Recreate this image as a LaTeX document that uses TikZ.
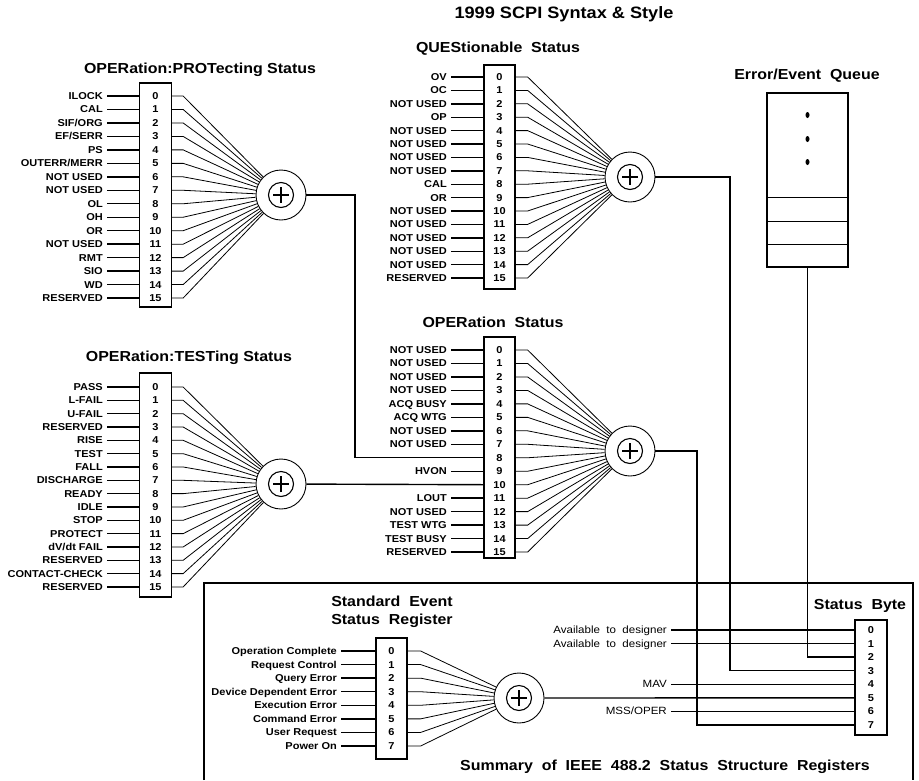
\documentclass[tikz,border=0pt]{standalone}
\usepackage{fontspec}
\setmainfont{Liberation Sans}[FakeStretch=1.1]
\usetikzlibrary{positioning}

\begin{document}
\begin{tikzpicture}[
    x=1pt, y=-1pt,
    regbox/.style={rectangle, draw, line width=1.3pt, minimum width=32pt, inner sep=0pt},
    bitnum/.style={inner sep=0pt, text height=7pt, text depth=0pt, font=\bfseries\fontsize{10}{10}\selectfont},
    bitlab/.style={anchor=east, inner xsep=4pt, inner ysep=1pt, text height=7pt, text depth=0pt, font=\bfseries\fontsize{10}{10}\selectfont},
    sblab/.style={anchor=east, inner xsep=4pt, inner ysep=1pt, text height=7pt, text depth=0pt, font=\fontsize{10.5}{10.5}\selectfont},
    regtitle/.style={font=\bfseries\fontsize{14.5}{18}\selectfont, align=center},
    wire/.style={line width=1.4pt},
    fan/.style={line width=0.8pt},
    sum/.style={circle, draw, line width=0.9pt, minimum size=50pt, inner sep=0pt,
        path picture={
            \draw[line width=1.1pt] (path picture bounding box.center) circle (12.5pt);
            \draw[line width=1.1pt] ([xshift=-8pt]path picture bounding box.center) -- ([xshift=8pt]path picture bounding box.center)
                ([yshift=-8pt]path picture bounding box.center) -- ([yshift=8pt]path picture bounding box.center);
        }}
]
    \useasboundingbox (0,0) rectangle (919,780);

    \node[font=\bfseries\fontsize{16.5}{20}\selectfont] (maintitle) at (564,14) {1999 SCPI Syntax \& Style};

    % OPERation:PROTecting
    \node[regtitle] (ptitle) at (200,70) {OPERation:PROTecting Status};
    \node[regbox, minimum height=224pt] (pbox) at (155.5,195) {};
    \node[sum] (psum) at (281,195) {};
    \foreach \i/\lab in {0/ILOCK, 1/CAL, 2/{SIF/ORG}, 3/{EF/SERR}, 4/PS, 5/{OUTERR/MERR}, 6/NOT USED, 7/NOT USED,
                         8/OL, 9/OH, 10/OR, 11/NOT USED, 12/RMT, 13/SIO, 14/WD, 15/RESERVED} {
        \node[bitnum] (p\i) at (155.5,{96+13.47*\i}) {\i};
        \node[bitlab] (pl\i) at (107,{96+13.47*\i}) {\lab};
        \draw[wire] (pl\i) -- (p\i -| pbox.west);
        \draw[fan] (p\i -| pbox.east) -- ++(11,0) -- (psum);
    }

    % OPERation:TESTing
    \node[regtitle] (ttitle) at (189,358) {OPERation:TESTing Status};
    \node[regbox, minimum height=224pt] (tbox) at (155.5,485) {};
    \node[sum] (tsum) at (281,484) {};
    \foreach \i/\lab in {0/PASS, 1/L-FAIL, 2/U-FAIL, 3/RESERVED, 4/RISE, 5/TEST, 6/FALL, 7/DISCHARGE,
                         8/READY, 9/IDLE, 10/STOP, 11/PROTECT, 12/{dV/dt FAIL}, 13/RESERVED, 14/CONTACT-CHECK, 15/RESERVED} {
        \node[bitnum] (t\i) at (155.5,{387+13.33*\i}) {\i};
        \node[bitlab] (tl\i) at (107,{387+13.33*\i}) {\lab};
        \draw[wire] (tl\i) -- (t\i -| tbox.west);
        \draw[fan] (t\i -| tbox.east) -- ++(11,0) -- (tsum);
    }

    % QUEStionable
    \node[regtitle] (qtitle) at (498,49) {QUEStionable~~Status};
    \node[regbox, minimum width=31pt, minimum height=224pt] (qbox) at (499.5,177) {};
    \node[sum] (qsum) at (630,177) {};
    \foreach \i/\lab in {0/OV, 1/OC, 2/NOT USED, 3/OP, 4/NOT USED, 5/NOT USED, 6/NOT USED, 7/NOT USED,
                         8/CAL, 9/OR, 10/NOT USED, 11/NOT USED, 12/NOT USED, 13/NOT USED, 14/NOT USED, 15/RESERVED} {
        \node[bitnum] (q\i) at (499.5,{77+13.4*\i}) {\i};
        \node[bitlab] (ql\i) at (451,{77+13.4*\i}) {\lab};
        \draw[wire] (ql\i) -- (q\i -| qbox.west);
        \draw[fan] (q\i -| qbox.east) -- ++(12,0) -- (qsum);
    }

    % OPERation
    \node[regtitle] (otitle) at (493,322) {OPERation~~Status};
    \node[regbox, minimum width=31pt, minimum height=221pt] (obox) at (499.5,447.5) {};
    \node[sum] (osum) at (630,451) {};
    \foreach \i in {0,...,15} {
        \node[bitnum] (o\i) at (499.5,{350+13.47*\i}) {\i};
        \draw[fan] (o\i -| obox.east) -- ++(12,0) -- (osum);
    }
    \foreach \i/\lab in {0/NOT USED, 1/NOT USED, 2/NOT USED, 3/NOT USED, 4/ACQ BUSY, 5/ACQ WTG, 6/NOT USED, 7/NOT USED,
                         9/HVON, 11/LOUT, 12/NOT USED, 13/TEST WTG, 14/TEST BUSY, 15/RESERVED} {
        \node[bitlab] (ol\i) at (451,{350+13.47*\i}) {\lab};
        \draw[wire] (ol\i) -- (o\i -| obox.west);
    }

    % Error/Event queue
    \node[regtitle] (etitle) at (807,76) {Error/Event~~Queue};
    \node[regbox, minimum width=81pt, minimum height=174pt] (queue) at (807.5,180) {};
    \foreach \h in {23,46,70}
        \draw[line width=1.3pt] ([yshift=\h pt]queue.south west) -- ([yshift=\h pt]queue.south east);
    \foreach \d in {115,139,162}
        \fill (807.5,\d) ellipse (2pt and 3pt);

    % IEEE 488.2 part
    \draw[line width=1.3pt] (204,780) -- (204,583) -- (913,583) -- (913,780);
    \node[font=\bfseries\fontsize{14.5}{18}\selectfont] (summary) at (665,767) {Summary~~of~~IEEE~~488.2~~Status~~Structure~~Registers};

    \node[regtitle] (stitle) at (392,612) {Standard~~Event\\Status~~Register};
    \node[regbox, minimum width=31pt, minimum height=121pt] (sesbox) at (391.5,698.5) {};
    \node[sum] (ssum) at (519,698) {};
    \foreach \i/\lab in {0/Operation Complete, 1/Request Control, 2/Query Error, 3/Device Dependent Error,
                         4/Execution Error, 5/Command Error, 6/User Request, 7/Power On} {
        \node[bitnum] (e\i) at (391.5,{651+13.57*\i}) {\i};
        \node[bitlab] (el\i) at (341,{651+13.57*\i}) {\lab};
        \draw[wire] (el\i) -- (e\i -| sesbox.west);
        \draw[fan] (e\i -| sesbox.east) -- ++(13,0) -- (ssum);
    }

    \node[regtitle] (btitle) at (860,606) {Status~~Byte};
    \node[regbox, minimum height=115pt] (sbox) at (871,677.5) {};
    \foreach \i in {0,...,7}
        \node[bitnum] (s\i) at (871,{630+13.57*\i}) {\i};
    \foreach \i/\lab in {0/Available~~to~~designer, 1/Available~~to~~designer, 4/MAV, 6/{MSS/OPER}} {
        \node[sblab] (sl\i) at (671,{630+13.57*\i}) {\lab};
        \draw[wire] (sl\i) -- (s\i -| sbox.west);
    }

    % summary lines
    \draw[wire] (psum) -- ++(74,0) |- (o8 -| obox.west);
    \draw[wire] (tsum) -- (o10 -| obox.west);
    \draw[wire] (qsum) -- ++(100,0) |- (s3 -| sbox.west);
    \draw[wire] (osum) -- ++(67,0) |- (s7 -| sbox.west);
    \draw[wire] (queue.south) |- (s2 -| sbox.west);
    \draw[wire] (ssum) -- (s5 -| sbox.west);
\end{tikzpicture}
\end{document}
